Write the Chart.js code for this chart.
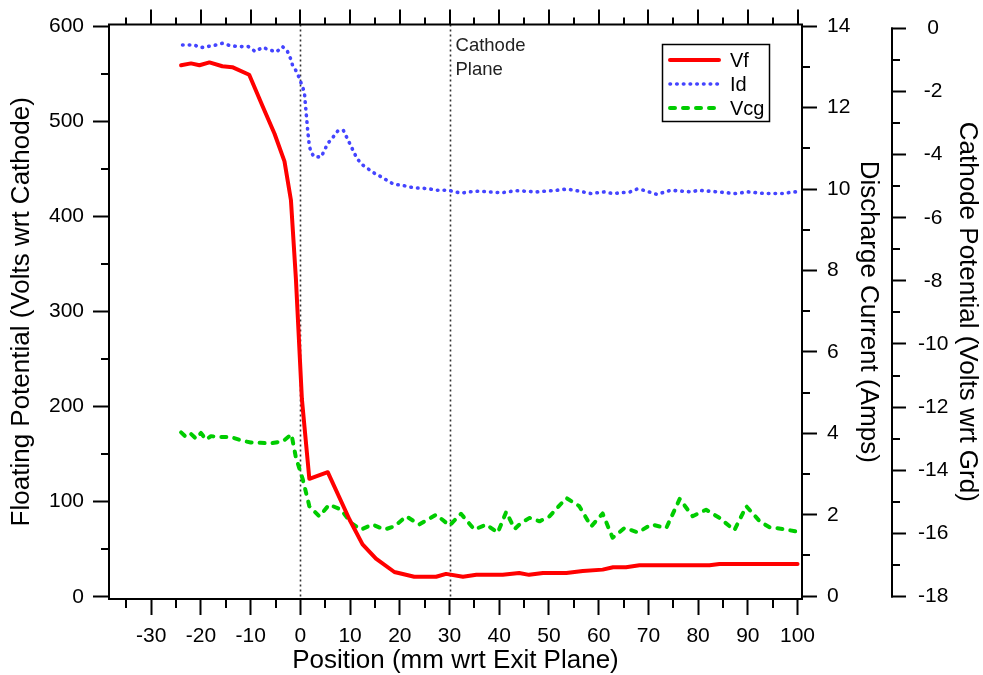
<!DOCTYPE html>
<html>
<head>
<meta charset="utf-8">
<script src="https://cdn.jsdelivr.net/npm/chart.js@4.4.1/dist/chart.umd.min.js"></script>
<style>
  html, body { margin: 0; padding: 0; background: #fff; }
</style>
</head>
<body>
<canvas id="myChart" width="983" height="675"></canvas>
<script>
// 1, data

    // Vf - floating potential (left axis, volts)
    let vfX = [-24, -22, -20.3, -18.3, -15.7, -13.7, -10.3, -7.6, -5.2, -3.2, -1.9, -0.9, 0.3, 1.8, 5.5, 9.9, 12.5, 15.2, 18.9, 22.9, 27.3, 29.3, 32.7, 35.4, 40.7, 44, 46, 48.8, 53.5, 56.8, 60.8, 62.9, 65.5, 68.2, 82.3, 84.3, 100];
    let vfY = [559, 561, 559, 562, 558, 557, 549, 516, 487, 458, 417, 334, 208, 124, 131, 81, 55, 40, 26, 21, 21, 24, 21, 23, 23, 25, 23, 25, 25, 27, 28.5, 31, 31, 33, 33, 34.5, 34.5];

    // Id - discharge current (first right axis, amps)
    let idX = [-23.7, -22.5, -21.3, -20.3, -19.3, -18, -16.9, -15.7, -14, -12.3, -10.5, -9.1, -7.6, -6, -4.8, -3.6, -2.6, -2, -1.6, -0.8, -0.2, 0.3, 0.8, 1.15, 1.5, 1.8, 2.15, 2.8, 4.2, 5.5, 6.6, 7.6, 8.65, 10, 11.3, 12.3, 13.7, 15, 16.4, 17.6, 18.9, 20.3, 21.6, 22.9, 25.8, 27.2, 29.8, 31.1, 32.5, 33.8, 36, 38, 40.5, 43.3, 47.5, 51.5, 53.6, 55.6, 58.4, 61.1, 62.9, 66.3, 67.7, 69.1, 71.7, 74.5, 78.7, 80, 84, 87.4, 90.1, 93.4, 97.5, 98.8, 100];
    let idY = [13.54, 13.54, 13.54, 13.48, 13.48, 13.52, 13.54, 13.58, 13.52, 13.5, 13.5, 13.38, 13.48, 13.41, 13.37, 13.5, 13.38, 13.21, 13.05, 12.89, 12.72, 12.55, 12.38, 11.88, 11.4, 11.06, 10.9, 10.79, 10.79, 11.12, 11.28, 11.44, 11.44, 11.1, 10.77, 10.61, 10.49, 10.38, 10.29, 10.2, 10.11, 10.1, 10.06, 10.03, 10.01, 9.97, 9.97, 9.93, 9.9, 9.93, 9.95, 9.93, 9.91, 9.96, 9.93, 9.97, 10, 9.96, 9.89, 9.93, 9.89, 9.93, 10, 9.97, 9.87, 9.97, 9.93, 9.97, 9.93, 9.89, 9.93, 9.89, 9.89, 9.93, 9.93];

    // Vcg - cathode potential (second right axis, volts)
    let vcgX = [-24, -23, -22, -21, -20, -19, -18, -16, -14, -12, -10, -8, -6, -3.5, -1.8, -0.9, 0.5, 1.8, 3.8, 5.8, 8.2, 10.2, 12.2, 14.5, 16.9, 18.9, 21.3, 23.9, 27.3, 30, 32.3, 35, 37.4, 39.7, 41.4, 43.1, 44.4, 46.1, 48.1, 50.1, 53.5, 56.1, 58.5, 60.8, 62.8, 65.2, 67.9, 70.6, 73.6, 76.3, 78.9, 81.6, 84.3, 87.3, 89.7, 92.4, 94.4, 97, 100];
    let vcgY = [-12.8, -12.95, -12.85, -13, -12.82, -13.03, -12.92, -12.95, -12.95, -13.05, -13.12, -13.13, -13.15, -13.08, -12.86, -13.6, -14.3, -15.14, -15.46, -15.09, -15.25, -15.67, -15.88, -15.72, -15.88, -15.78, -15.46, -15.72, -15.41, -15.75, -15.38, -15.88, -15.72, -15.98, -15.32, -15.86, -15.67, -15.51, -15.62, -15.46, -14.88, -15.14, -15.78, -15.37, -16.14, -15.83, -15.97, -15.72, -15.83, -14.91, -15.46, -15.25, -15.51, -15.9, -15.14, -15.62, -15.81, -15.86, -15.95];

    // tick labels
    let xTicks = [-30, -20, -10, 0, 10, 20, 30, 40, 50, 60, 70, 80, 90, 100];
    let xMinor = [-35, -25, -15, -5, 5, 15, 25, 35, 45, 55, 65, 75, 85, 95];
    let yTicks = [0, 100, 200, 300, 400, 500, 600];
    let yMinor = [50, 150, 250, 350, 450, 550];
    let y1Ticks = [0, 2, 4, 6, 8, 10, 12, 14];
    let y1Minor = [1, 3, 5, 7, 9, 11, 13];
    let y2Ticks = [-18, -16, -14, -12, -10, -8, -6, -4, -2, 0];
    let y2Minor = [-17, -15, -13, -11, -9, -7, -5, -3, -1];

    // vertical marker lines
    let markerLines = [0, 30];

// 2, helpers

    let 글꼴 = "'Liberation Sans', Arial, Helvetica, sans-serif";
    Chart.defaults.font.family = 글꼴;
    Chart.defaults.color = '#000';

    function 점들(xs, ys) {
        return xs.map((x, i) => ({ x: x, y: ys[i] }));
    }

    function 눈금고정(list) {
        return function (scale) {
            scale.ticks = list.map(v => ({ value: v }));
        };
    }

    function 선(ctx, x1, y1, x2, y2) {
        ctx.beginPath();
        ctx.moveTo(x1, y1);
        ctx.lineTo(x2, y2);
        ctx.stroke();
    }

    // dotted lines at exit plane / cathode plane, drawn under the data
    let 표시선 = {
        id: 'markers',
        beforeDatasetsDraw(chart) {
            let ctx = chart.ctx;
            let area = chart.chartArea;
            let sx = chart.scales.x;
            ctx.save();
            ctx.strokeStyle = '#333';
            ctx.lineWidth = 1.6;
            ctx.setLineDash([2, 3]);
            markerLines.forEach(v => {
                let px = Math.round(sx.getPixelForValue(v)) + 0.5;
                선(ctx, px, area.top, px, area.bottom);
            });
            ctx.setLineDash([]);
            ctx.fillStyle = '#222';
            ctx.font = '18.5px ' + 글꼴;
            ctx.textBaseline = 'middle';
            let px30 = sx.getPixelForValue(30);
            ctx.fillText('Cathode', px30 + 6, 46);
            ctx.fillText('Plane', px30 + 6, 70);
            ctx.restore();
        }
    };

    // frame top, minor ticks, third axis line, legend box
    let 덧그리기 = {
        id: 'overlay',
        afterDraw(chart) {
            let ctx = chart.ctx;
            let area = chart.chartArea;
            let sx = chart.scales.x, sy = chart.scales.y, sy1 = chart.scales.y1, sy2 = chart.scales.y2;
            ctx.save();
            ctx.strokeStyle = '#000';
            ctx.lineWidth = 2;

            선(ctx, area.left - 1, area.top, area.right + 1, area.top);
            xTicks.forEach(v => {
                let px = Math.round(sx.getPixelForValue(v));
                선(ctx, px, area.top, px, area.top - 15);
            });
            xMinor.forEach(v => {
                let px = Math.round(sx.getPixelForValue(v));
                선(ctx, px, area.top, px, area.top - 7);
                선(ctx, px, area.bottom, px, area.bottom + 9);
            });
            yMinor.forEach(v => {
                let py = Math.round(sy.getPixelForValue(v));
                선(ctx, area.left, py, area.left - 8, py);
            });
            y1Minor.forEach(v => {
                let py = Math.round(sy1.getPixelForValue(v));
                선(ctx, area.right, py, area.right + 8, py);
            });
            // third axis only runs from 0 down to -18
            let ax = sy2.left + 1;
            선(ctx, ax, sy2.getPixelForValue(0) - 1, ax, sy2.getPixelForValue(-18) + 1);
            y2Minor.forEach(v => {
                let py = Math.round(sy2.getPixelForValue(v));
                선(ctx, ax, py, ax + 8, py);
            });

            // legend
            ctx.fillStyle = '#fff';
            ctx.fillRect(662, 44, 108, 78);
            ctx.lineWidth = 1.5;
            ctx.strokeRect(662.5, 44.5, 107, 77);
            ctx.font = '20px ' + 글꼴;
            ctx.textBaseline = 'middle';
            chart.data.datasets.forEach((ds, i) => {
                let ly = 60 + i * 24;
                ctx.strokeStyle = ds.borderColor;
                ctx.lineWidth = ds.borderWidth;
                ctx.lineCap = ds.borderCapStyle || 'butt';
                ctx.setLineDash(ds.borderDash || []);
                선(ctx, 670, ly, 719, ly);
                ctx.setLineDash([]);
                ctx.fillStyle = '#000';
                ctx.fillText(ds.label, 730, ly + 1);
            });
            ctx.restore();
        }
    };

// 3, chart

    let ctx = document.getElementById('myChart').getContext('2d');
    let newChart = new Chart(ctx, {
        type: 'line',
        data: {
            datasets: [
                {
                    label: 'Vf',
                    data: 점들(vfX, vfY),
                    yAxisID: 'y',
                    borderColor: '#ff0000',
                    borderWidth: 4,
                    borderCapStyle: 'round',
                    borderJoinStyle: 'round'
                },
                {
                    label: 'Id',
                    data: 점들(idX, idY),
                    yAxisID: 'y1',
                    borderColor: '#4444ff',
                    borderWidth: 3.6,
                    borderDash: [0.5, 6.2],
                    borderCapStyle: 'round',
                    borderJoinStyle: 'round'
                },
                {
                    label: 'Vcg',
                    data: 점들(vcgX, vcgY),
                    yAxisID: 'y2',
                    borderColor: '#00cc00',
                    borderWidth: 4,
                    borderDash: [5, 8],
                    borderCapStyle: 'round',
                    borderJoinStyle: 'round'
                }
            ]
        },
        options: {
            responsive: false,
            devicePixelRatio: 1,
            animation: false,
            layout: { padding: { top: 23, left: 0, right: 0, bottom: 0 } },
            elements: { point: { radius: 0 }, line: { tension: 0, fill: false } },
            plugins: { legend: { display: false }, tooltip: { enabled: false } },
            scales: {
                x: {
                    type: 'linear',
                    position: 'bottom',
                    min: -38.5,
                    max: 100.9,
                    afterBuildTicks: 눈금고정(xTicks),
                    afterFit: s => { s.height = 76; },
                    ticks: { font: { size: 21 }, padding: 9, maxRotation: 0, autoSkip: false, callback: v => String(v) },
                    grid: { drawOnChartArea: false, tickLength: 16, tickWidth: 2, tickColor: '#000' },
                    border: { color: '#000', width: 2 },
                    title: { display: true, text: 'Position (mm wrt Exit Plane)', font: { size: 26, lineHeight: 1 }, padding: { top: 0, bottom: 1 } }
                },
                y: {
                    type: 'linear',
                    position: 'left',
                    min: -2.4,
                    max: 601.8,
                    afterBuildTicks: 눈금고정(yTicks),
                    afterFit: s => { s.width = 109; },
                    ticks: { font: { size: 21 }, padding: 9, autoSkip: false, callback: v => String(v) },
                    grid: { drawOnChartArea: false, tickLength: 16, tickWidth: 2, tickColor: '#000' },
                    border: { color: '#000', width: 2 },
                    title: { display: true, text: 'Floating Potential (Volts wrt Cathode)', font: { size: 26 }, padding: { top: 6, bottom: 0 } }
                },
                y1: {
                    type: 'linear',
                    position: 'right',
                    weight: 1,
                    min: -0.07,
                    max: 14.04,
                    afterBuildTicks: 눈금고정(y1Ticks),
                    afterFit: s => { s.width = 89; },
                    ticks: { font: { size: 21 }, padding: 10, autoSkip: false, callback: v => String(v) },
                    grid: { drawOnChartArea: false, tickLength: 15, tickWidth: 2, tickColor: '#000' },
                    border: { color: '#000', width: 2 },
                    title: { display: true, text: 'Discharge Current (Amps)', font: { size: 26 }, padding: { top: 7, bottom: 0 } }
                },
                y2: {
                    type: 'linear',
                    position: 'right',
                    weight: 2,
                    min: -18.08,
                    max: 0.12,
                    afterBuildTicks: 눈금고정(y2Ticks),
                    afterFit: s => { s.width = 92; },
                    ticks: { font: { size: 21 }, padding: 12, crossAlign: 'center', autoSkip: false, callback: v => String(v) },
                    grid: { drawOnChartArea: false, tickLength: 15, tickWidth: 2, tickColor: '#000' },
                    border: { display: false },
                    title: { display: true, text: 'Cathode Potential (Volts wrt Grd)', font: { size: 26 }, padding: { top: 0, bottom: 0 } }
                }
            }
        },
        plugins: [표시선, 덧그리기]
    });
</script>
</body>
</html>
